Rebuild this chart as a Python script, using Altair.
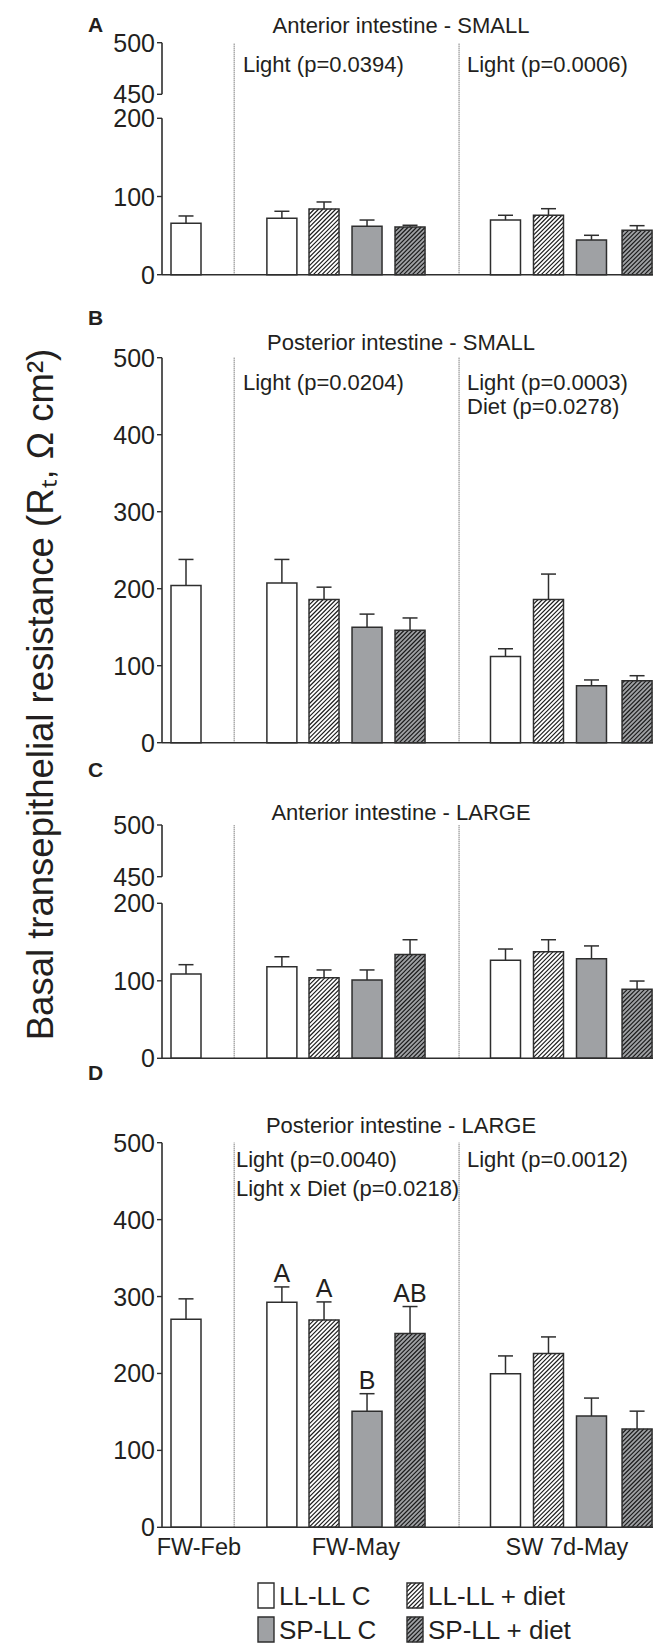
import altair as alt
import numpy as np
import pandas as pd

FONT = "Liberation Sans"
TXT = "#231f20"
INK = "#2e2e2e"
GRAY = "#9fa1a4"

# ---------------- data ----------------
treatments = ["LL-LL C", "LL-LL + diet", "SP-LL C", "SP-LL + diet"]
treat_fill = ["#ffffff", "#ffffff", GRAY, GRAY]
treat_hatched = [False, True, False, True]
groups = ["FW-Feb", "FW-May", "SW 7d-May"]
bar_group = ["FW-Feb"] + ["FW-May"] * 4 + ["SW 7d-May"] * 4
bar_treat = ["LL-LL C"] + treatments + treatments
bar_slot = [0.0, 2.23, 3.21, 4.21, 5.21, 7.43, 8.43, 9.43, 10.49]
group_label_slot = [0.30, 3.95, 8.86]
separator_slot = [1.12, 6.35]

panels = ["A", "B", "C", "D"]
panel_titles = ["Anterior intestine - SMALL", "Posterior intestine - SMALL",
                "Anterior intestine - LARGE", "Posterior intestine - LARGE"]

mean_A = [65.7, 72.1, 84.0, 61.9, 61.0, 69.9, 76.0, 44.4, 56.8]
sem_A = [9.4, 9.0, 9.0, 8.0, 2.2, 6.1, 8.4, 6.0, 5.9]
mean_B = [204.0, 207.5, 186.0, 150.0, 146.0, 112.0, 186.0, 74.0, 80.5]
sem_B = [34.0, 30.5, 16.0, 17.0, 16.0, 10.0, 33.0, 7.5, 6.5]
mean_C = [108.8, 118.0, 104.0, 101.0, 134.0, 126.4, 137.6, 128.5, 89.0]
sem_C = [12.0, 13.0, 10.0, 13.0, 19.0, 14.6, 15.4, 16.5, 10.7]
mean_D = [270.5, 292.6, 269.6, 151.0, 251.8, 199.7, 225.8, 144.7, 127.8]
sem_D = [26.5, 19.9, 23.4, 22.7, 35.2, 23.1, 21.7, 23.3, 23.2]
letters_D = ["", "A", "A", "B", "AB", "", "", "", ""]

ticks_broken = [0, 100, 200, 450, 500]
ticks_full = [0, 100, 200, 300, 400, 500]

stats_A = [["Light (p=0.0394)"], ["Light (p=0.0006)"]]
stats_B = [["Light (p=0.0204)"], ["Light (p=0.0003)", "Diet (p=0.0278)"]]
stats_C = [[], []]
stats_D = [["Light (p=0.0040)", "Light x Diet (p=0.0218)"], ["Light (p=0.0012)"]]

y_title = "Basal transepithelial resistance (R\u209c, \u03a9 cm\u00b2)"

# ---------------- layout (styles / positions in px) ----------------
W, H = 645, 1635
X0, XU = 178.0, 43.0          # px of slot 0, px per slot unit
AXIS_X = 154.0
TICK_LEN = 5
BAR_HALF = 15.0
CAP_HALF = 7.5
HATCH_P = 4.3
TITLE_X = 393

LAYOUT = {
    "A": dict(dom=[0, 200, 450, 500], rng=[266.7, 110.3, 86.3, 34.7],
              ticks=ticks_broken, segs=[[0, 200], [450, 500]],
              letter_y=24, title_y=25, stat_x=[235, 459], stat_y=64, stat_dy=24),
    "B": dict(dom=[0, 500], rng=[734.7, 349.7],
              ticks=ticks_full, segs=[[0, 500]],
              letter_y=317, title_y=342, stat_x=[235, 459], stat_y=382, stat_dy=23.7),
    "C": dict(dom=[0, 200, 450, 500], rng=[1050.3, 895.3, 868.7, 817.0],
              ticks=ticks_broken, segs=[[0, 200], [450, 500]],
              letter_y=769, title_y=812, stat_x=[235, 459], stat_y=857, stat_dy=24),
    "D": dict(dom=[0, 500], rng=[1519.3, 1134.7],
              ticks=ticks_full, segs=[[0, 500]],
              letter_y=1072, title_y=1125, stat_x=[228, 459], stat_y=1159, stat_dy=28.7),
}
PANEL_DATA = {"A": (mean_A, sem_A, stats_A), "B": (mean_B, sem_B, stats_B),
              "C": (mean_C, sem_C, stats_C), "D": (mean_D, sem_D, stats_D)}

xscale = alt.Scale(domain=[-X0 / XU, (W - X0) / XU], nice=False, zero=False)
fill_scale = alt.Scale(domain=treatments, range=treat_fill)


def hatch_lines(a, b, h, period):
    """'/' stripes inside rect u in [a,b], w in [0,h] (w measured upward)."""
    out = []
    c = np.floor((a - h) / period) * period
    while c < b:
        u1, u2 = max(a, c), min(b, c + h)
        if u2 - u1 > 0.3:
            out.append((u1, u1 - c, u2, u2 - c))
        c += period
    return out


def panel_chart(pid):
    L = LAYOUT[pid]
    means, sems, _ = PANEL_DATA[pid]
    ysc = alt.Scale(domain=L["dom"], range=L["rng"], nice=False, zero=False)
    kpx = (L["rng"][0] - L["rng"][1]) / (L["dom"][1] - L["dom"][0])
    df = pd.DataFrame({"slot": bar_slot, "treat": bar_treat, "group": bar_group,
                       "mean": means, "sem": sems})
    df["top"] = df["mean"] + df["sem"]
    if pid == "D":
        df["letter"] = letters_D
    hw, cw = BAR_HALF / XU, CAP_HALF / XU
    base = alt.Chart(df).transform_calculate(
        xa=f"datum.slot - {hw}", xb=f"datum.slot + {hw}",
        ca=f"datum.slot - {cw}", cb=f"datum.slot + {cw}", zero="0")

    def X(f):
        return alt.X(f, scale=xscale, axis=None)

    def Y(f):
        return alt.Y(f, scale=ysc, axis=None)

    seps = alt.Chart(pd.DataFrame({"slot": separator_slot, "lo": [0, 0], "hi": [500, 500]})).mark_rule(
        stroke="#333333", strokeWidth=0.9, strokeDash=[1, 1]).encode(
        x=X("slot:Q"), y=Y("lo:Q"), y2="hi:Q")

    bars = base.mark_bar(strokeWidth=0).encode(
        x=X("xa:Q"), x2="xb:Q", y=Y("mean:Q"), y2="zero:Q",
        fill=alt.Fill("treat:N", scale=fill_scale, legend=None))

    rows = []
    for s, t, m in zip(bar_slot, bar_treat, means):
        if treat_hatched[treatments.index(t)]:
            a = X0 + XU * s - BAR_HALF
            for u1, w1, u2, w2 in hatch_lines(a, a + 2 * BAR_HALF, m * kpx, HATCH_P):
                rows.append({"p1": (u1 - X0) / XU, "v1": w1 / kpx,
                             "p2": (u2 - X0) / XU, "v2": w2 / kpx})
    hatch = alt.Chart(pd.DataFrame(rows)).mark_rule(stroke="#1a1a1a", strokeWidth=1.15).encode(
        x=X("p1:Q"), x2="p2:Q", y=Y("v1:Q"), y2="v2:Q")

    outline = base.mark_bar(fillOpacity=0, stroke=INK, strokeWidth=1.5).encode(
        x=X("xa:Q"), x2="xb:Q", y=Y("mean:Q"), y2="zero:Q")
    err = base.mark_rule(stroke=INK, strokeWidth=1.5).encode(
        x=X("slot:Q"), y=Y("mean:Q"), y2="top:Q")
    caps = base.mark_rule(stroke=INK, strokeWidth=1.5).encode(
        x=X("ca:Q"), x2="cb:Q", y=Y("top:Q"))

    segs = pd.DataFrame({"lo": [s[0] for s in L["segs"]], "hi": [s[1] for s in L["segs"]]})
    axis_line = alt.Chart(segs).mark_rule(stroke=INK, strokeWidth=1.6).encode(
        x=alt.value(AXIS_X), y=Y("lo:Q"), y2="hi:Q")
    baseline = alt.Chart(pd.DataFrame({"zero": [0]})).mark_rule(stroke=INK, strokeWidth=1.6).encode(
        x=alt.value(AXIS_X), x2=alt.value(W), y=Y("zero:Q"))

    tdf = pd.DataFrame({"v": L["ticks"], "lab": [str(v) for v in L["ticks"]]})
    tick_marks = alt.Chart(tdf).mark_rule(stroke=INK, strokeWidth=1.4).encode(
        x=alt.value(AXIS_X - TICK_LEN), x2=alt.value(AXIS_X), y=Y("v:Q"))
    tick_labels = alt.Chart(tdf).mark_text(
        align="right", baseline="middle", fontSize=25, font=FONT, color=TXT, dy=1).encode(
        x=alt.value(AXIS_X - 7), y=Y("v:Q"), text="lab:N")

    layers = [seps, bars, hatch, outline, err, caps, axis_line, baseline, tick_marks, tick_labels]
    if pid == "D":
        letters = base.transform_filter("datum.letter != ''").mark_text(
            dy=-5, baseline="alphabetic", align="center", fontSize=25, font=FONT,
            color=TXT).encode(x=X("slot:Q"), y=Y("top:Q"), text="letter:N")
        layers.append(letters)
    return alt.layer(*layers)


panel_charts = [panel_chart(p) for p in panels]

# ---------------- text ----------------
letter_df = pd.DataFrame({"t": panels, "x": [80] * 4,
                          "y": [LAYOUT[p]["letter_y"] for p in panels]})
letter_layer = alt.Chart(letter_df).mark_text(
    align="left", baseline="alphabetic", fontWeight="bold", fontSize=21, font=FONT,
    color=TXT).encode(x=alt.X("x:Q", scale=None), y=alt.Y("y:Q", scale=None), text="t:N")

title_df = pd.DataFrame({"t": panel_titles, "x": [TITLE_X] * 4,
                         "y": [LAYOUT[p]["title_y"] for p in panels]})
title_layer = alt.Chart(title_df).mark_text(
    align="center", baseline="alphabetic", fontSize=22, font=FONT, color=TXT).encode(
    x=alt.X("x:Q", scale=None), y=alt.Y("y:Q", scale=None), text="t:N")

stat_rows = []
for p in panels:
    L = LAYOUT[p]
    for gi, lines in enumerate(PANEL_DATA[p][2]):
        for li, line in enumerate(lines):
            stat_rows.append({"t": line, "x": L["stat_x"][gi], "y": L["stat_y"] + li * L["stat_dy"]})
stat_layer = alt.Chart(pd.DataFrame(stat_rows)).mark_text(
    align="left", baseline="alphabetic", fontSize=22, font=FONT, color=TXT).encode(
    x=alt.X("x:Q", scale=None), y=alt.Y("y:Q", scale=None), text="t:N")

grp_layer = alt.Chart(pd.DataFrame({"g": groups, "slot": group_label_slot})).mark_text(
    align="center", baseline="alphabetic", fontSize=23.5, font=FONT, color=TXT).encode(
    x=alt.X("slot:Q", scale=xscale, axis=None), y=alt.value(1547), text="g:N")

ytitle_layer = alt.Chart(pd.DataFrame({"t": [y_title]})).mark_text(
    angle=270, align="center", baseline="alphabetic", fontSize=36.5, font=FONT,
    color=TXT).encode(x=alt.value(45), y=alt.value(686.5), text="t:N")

# ---------------- legend (drawn) ----------------
LEG_COL_X = [250, 399]
LEG_ROW_Y = [1575, 1609]
SW_W, SW_H = 16, 25
leg_rows, leg_hatch = [], []
for i, t in enumerate(treatments):
    cx, ry = LEG_COL_X[i % 2], LEG_ROW_Y[i // 2]
    leg_rows.append({"t": t, "x1": cx, "x2": cx + SW_W, "y1": ry, "y2": ry + SW_H,
                     "fill": treat_fill[i], "tx": cx + 21, "ty": ry + 22})
    if treat_hatched[i]:
        for u1, w1, u2, w2 in hatch_lines(cx, cx + SW_W, SW_H, HATCH_P):
            leg_hatch.append({"u1": u1, "v1": ry + SW_H - w1, "u2": u2, "v2": ry + SW_H - w2})
leg_df = pd.DataFrame(leg_rows)
leg_fill = alt.Chart(leg_df).mark_rect(strokeWidth=0).encode(
    x=alt.X("x1:Q", scale=None), x2="x2:Q", y=alt.Y("y1:Q", scale=None), y2="y2:Q",
    fill=alt.Fill("fill:N", scale=None))
leg_h = alt.Chart(pd.DataFrame(leg_hatch)).mark_rule(stroke="#1a1a1a", strokeWidth=1.15).encode(
    x=alt.X("u1:Q", scale=None), x2="u2:Q", y=alt.Y("v1:Q", scale=None), y2="v2:Q")
leg_out = alt.Chart(leg_df).mark_rect(fillOpacity=0, stroke=INK, strokeWidth=1.4).encode(
    x=alt.X("x1:Q", scale=None), x2="x2:Q", y=alt.Y("y1:Q", scale=None), y2="y2:Q")
leg_txt = alt.Chart(leg_df).mark_text(
    align="left", baseline="alphabetic", fontSize=26, font=FONT, color=TXT).encode(
    x=alt.X("tx:Q", scale=None), y=alt.Y("ty:Q", scale=None), text="t:N")

chart = alt.layer(
    *panel_charts, letter_layer, title_layer, stat_layer, grp_layer, ytitle_layer,
    leg_fill, leg_h, leg_out, leg_txt
).resolve_scale(y="independent").properties(
    width=W, height=H, padding=0, autosize=alt.AutoSizeParams(type="none")
).configure_view(stroke=None)

chart.save("out.html", embed_options={"renderer": "svg", "actions": False})
